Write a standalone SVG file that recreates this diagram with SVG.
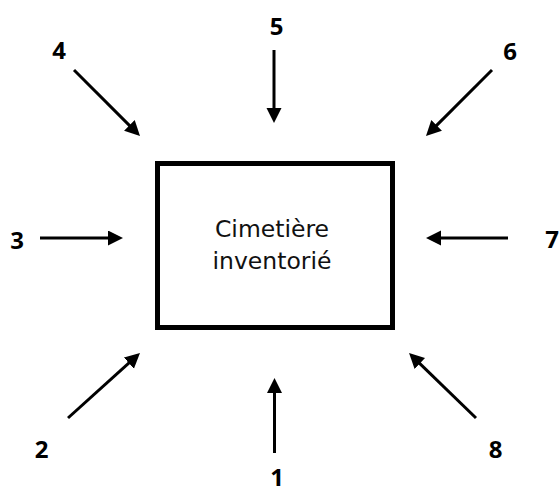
<svg xmlns="http://www.w3.org/2000/svg" width="559" height="489" viewBox="0 0 559 489">
  <style>
    .conn { stroke: #000; stroke-width: 3; fill: none; marker-end: url(#ah); }
    .num { font-family: "Noto Sans", "DejaVu Sans", sans-serif; font-weight: bold; font-size: 24px; fill: #000; text-anchor: middle; }
    .lbl { font-family: "DejaVu Sans", "Liberation Sans", sans-serif; font-size: 23.5px; fill: #111; text-anchor: middle; }
  </style>
  <defs>
    <marker id="ah" markerUnits="userSpaceOnUse" markerWidth="16" markerHeight="16" refX="1" refY="7.5" orient="auto">
      <path d="M0,0 L15,7.5 L0,15 Z" fill="#000"/>
    </marker>
  </defs>
  <rect width="559" height="489" fill="#fff"/>
  <g id="center">
    <rect x="157.5" y="163.5" width="235" height="164" fill="#fff" stroke="#000" stroke-width="5"/>
    <text class="lbl" x="272" y="237">Cimetière</text>
    <text class="lbl" x="272" y="269">inventorié</text>
  </g>
  <g id="connectors">
    <line class="conn" x1="274.5" y1="453" x2="274.5" y2="392"/>
    <line class="conn" x1="68" y1="418" x2="129.6" y2="362.4"/>
    <line class="conn" x1="40" y1="238" x2="109" y2="238"/>
    <line class="conn" x1="74" y1="70" x2="130.1" y2="126.1"/>
    <line class="conn" x1="274" y1="50" x2="274" y2="109"/>
    <line class="conn" x1="492" y1="70" x2="435.9" y2="126.1"/>
    <line class="conn" x1="508" y1="238" x2="440" y2="238"/>
    <line class="conn" x1="476" y1="418" x2="419.1" y2="362.8"/>
  </g>
  <g id="n1"><text class="num" x="277" y="486">1</text></g>
  <g id="n2"><text class="num" x="41.5" y="458">2</text></g>
  <g id="n3"><text class="num" x="17" y="249">3</text></g>
  <g id="n4"><text class="num" x="59" y="59">4</text></g>
  <g id="n5"><text class="num" x="276.5" y="35">5</text></g>
  <g id="n6"><text class="num" x="510" y="60">6</text></g>
  <g id="n7"><text class="num" x="552" y="248">7</text></g>
  <g id="n8"><text class="num" x="495.5" y="458">8</text></g>
</svg>
